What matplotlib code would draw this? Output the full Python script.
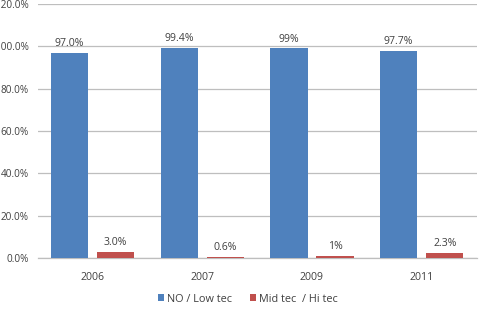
import matplotlib
matplotlib.use("Agg")
import matplotlib.pyplot as plt
import numpy as np

categories = ["2006", "2007", "2009", "2011"]
low_tec = [97.0, 99.4, 99.0, 97.7]
hi_tec = [3.0, 0.6, 1.0, 2.3]
low_labels = ["97.0%", "99.4%", "99%", "97.7%"]
hi_labels = ["3.0%", "0.6%", "1%", "2.3%"]
yticks = [0, 20, 40, 60, 80, 100, 120]

plt.rcParams['font.family'] = ['Open Sans', 'DejaVu Sans']

fig = plt.figure(figsize=(4.81, 3.16), dpi=100)
ax = fig.add_axes([37.6/481, 1-258/316, 439/481, (258-4)/316])

x = np.arange(len(categories))
w = 0.34
off = 0.21
blue = "#4F81BD"
red = "#C0504D"
b1 = ax.bar(x - off, low_tec, w, color=blue, label="NO / Low tec", zorder=3)
b2 = ax.bar(x + off, hi_tec, w, color=red, label="Mid tec  / Hi tec", zorder=3)

for xi, v, t in zip(x, low_tec, low_labels):
    ax.text(xi - off, v + 1.8, t, ha='center', va='bottom', fontsize=7.6, color='#404040')
for xi, v, t in zip(x, hi_tec, hi_labels):
    ax.text(xi + off, v + 1.8, t, ha='center', va='bottom', fontsize=7.6, color='#404040')

ax.set_xlim(-0.5, 3.5)
ax.set_ylim(0, 120)
ax.set_yticks(yticks)
ax.set_yticklabels([f"{v:.1f}%" for v in yticks], fontsize=7.2, color='#404040')
ax.set_xticks(x)
ax.set_xticklabels(categories, fontsize=7.6, color='#404040')
ax.tick_params(axis='y', length=0, pad=6.5)
ax.tick_params(axis='x', length=0, pad=10)
ax.yaxis.grid(True, color='#BEBEBE', linewidth=0.9, zorder=0)
for s in ['top', 'right', 'left']:
    ax.spines[s].set_visible(False)
ax.spines['bottom'].set_color('#BEBEBE')
ax.spines['bottom'].set_linewidth(0.9)

leg = fig.legend(handles=[b1, b2], loc='center', bbox_to_anchor=(248/481, 1-299/316),
                 ncol=2, frameon=False, fontsize=7.8, handlelength=0.55, handleheight=0.55,
                 handletextpad=0.3, columnspacing=1.6)
for t in leg.get_texts():
    t.set_color('#404040')

fig.savefig("out.png", dpi=100)
